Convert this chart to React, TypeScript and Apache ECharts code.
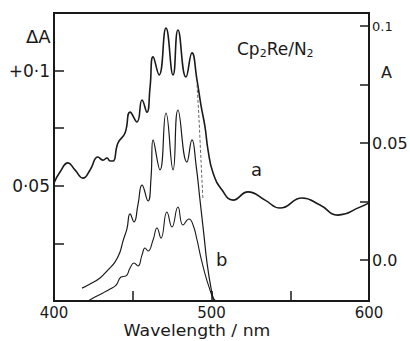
import React, { useEffect, useRef } from "react";
import * as echarts from "echarts";

// Curve a (absorbance, right axis A)
const wavelengthA = [400.0, 403.8, 408.9, 413.3, 418.4, 422.9, 427.9, 431.1, 433.7, 435.6, 437.5, 440.6, 445.1, 448.3, 452.7, 455.9, 459.0, 461.0, 462.9, 466.7, 471.1, 475.6, 478.7, 483.8, 487.6, 490.8, 493.3, 495.9, 497.8, 501.0, 506.7, 513.7, 523.2, 534.0, 543.5, 557.5, 568.9, 580.3, 594.3, 600.0];
const absorbanceA = [0.0329, 0.0376, 0.0415, 0.0385, 0.035, 0.0385, 0.044, 0.0427, 0.0436, 0.0423, 0.0423, 0.05, 0.0543, 0.0632, 0.059, 0.0684, 0.0632, 0.0739, 0.0868, 0.0791, 0.0991, 0.0791, 0.0983, 0.0782, 0.0885, 0.0769, 0.0662, 0.0568, 0.047, 0.0372, 0.0299, 0.0256, 0.0291, 0.0256, 0.0222, 0.0265, 0.0235, 0.0192, 0.0226, 0.0244];

// Curve b, upper trace (difference absorbance, left axis ΔA)
const wavelengthB1 = [417.8, 422.9, 429.2, 434.3, 438.7, 441.9, 443.8, 446.3, 448.3, 450.8, 453.3, 455.9, 459.7, 461.6, 462.9, 467.3, 471.1, 475.6, 478.7, 484.4, 487.6, 490.2, 492.7, 495.2, 497.1, 499.7, 501.6, 502.9];
const deltaB1 = [0.0056, 0.0074, 0.01, 0.0135, 0.0169, 0.0213, 0.026, 0.0313, 0.0378, 0.0343, 0.0417, 0.0503, 0.0434, 0.0534, 0.0699, 0.0569, 0.0816, 0.0569, 0.0829, 0.0603, 0.0699, 0.059, 0.0438, 0.0286, 0.0169, 0.0056, 0.0004, 0.0];

// Curve b, lower trace
const wavelengthB2 = [421.6, 426.0, 431.1, 435.6, 439.4, 442.5, 445.7, 448.3, 450.8, 453.3, 455.9, 457.8, 459.7, 462.9, 465.4, 467.9, 471.7, 474.9, 478.7, 481.9, 485.7, 488.3, 490.8, 493.3, 495.9, 498.4, 501.0, 502.9];
const deltaB2 = [0.0, 0.0017, 0.0035, 0.0052, 0.0069, 0.0104, 0.0109, 0.0143, 0.0165, 0.0152, 0.02, 0.023, 0.0217, 0.0265, 0.0317, 0.0273, 0.0386, 0.0321, 0.0408, 0.033, 0.0356, 0.033, 0.0265, 0.0187, 0.0117, 0.0061, 0.0013, 0.0];

// Dashed drop from curve a's last peak towards the baseline
const wavelengthDrop = [490.8, 492.1, 493.3, 494.6];
const deltaDrop = [0.0938, 0.0786, 0.0612, 0.0438];

const xLabelValues = [400, 500, 600];
const xTickValues = [450, 500, 550];
const leftTickValues = [0.025, 0.05, 0.075, 0.1];
const leftLabelValues = [0.05, 0.1];
const rightTickValues = [0, 0.025, 0.05, 0.075, 0.1];
const rightLabelValues = [0, 0.05, 0.1];
const xAxisTitle = "Wavelength / nm";

const zip = (xs: number[], ys: number[]) => xs.map((x, i) => [x, ys[i]]);

const FONT = "DejaVu Sans";
const INK = "#1a1a1a";

export default function App() {
  const ref = useRef<HTMLDivElement>(null);
  useEffect(() => {
    if (!ref.current) return;
    const chart = echarts.init(ref.current, undefined, { renderer: "svg" });
    chart.setOption({
      animation: false,
      backgroundColor: "#fff",
      grid: {
        left: 54,
        right: 41,
        top: 13,
        bottom: 40,
        show: true,
        borderColor: INK,
        borderWidth: 2,
        containLabel: false,
        outerBoundsMode: "none",
      },
      xAxis: {
        type: "value",
        min: 400,
        max: 600,
        interval: 50,
        axisLine: { lineStyle: { color: INK, width: 2 } },
        axisTick: { inside: true, length: 10, customValues: xTickValues, lineStyle: { color: INK, width: 1.5 } },
        axisLabel: {
          customValues: xLabelValues,
          margin: 4,
          fontFamily: FONT,
          fontSize: 15,
          color: INK,
          formatter: (v: number) => (v % 100 === 0 ? String(v) : ""),
        },
        splitLine: { show: false },
      },
      yAxis: [
        {
          type: "value",
          position: "left",
          min: 0,
          max: 0.125,
          interval: 0.025,
          axisLine: { show: true, lineStyle: { color: INK, width: 2 } },
          axisTick: { show: true, inside: true, length: 10, customValues: leftTickValues, lineStyle: { color: INK, width: 1.5 } },
          axisLabel: {
            customValues: leftLabelValues,
            margin: 4,
            fontFamily: FONT,
            fontSize: 17,
            color: INK,
            formatter: (v: number) =>
              Math.abs(v - 0.1) < 1e-6 ? "+0·1" : Math.abs(v - 0.05) < 1e-6 ? "0·05" : "",
          },
          splitLine: { show: false },
        },
        {
          type: "value",
          position: "right",
          min: -0.01752,
          max: 0.10556,
          axisLine: { show: true, lineStyle: { color: INK, width: 2 } },
          axisTick: { show: true, inside: true, length: 9, customValues: rightTickValues, lineStyle: { color: INK, width: 1.5 } },
          axisLabel: {
            customValues: rightLabelValues,
            margin: 3,
            fontFamily: FONT,
            fontSize: 16,
            color: INK,
            formatter: (v: number) =>
              Math.abs(v - 0.1) < 1e-6 ? "{s|0.1}" : Math.abs(v - 0.05) < 1e-6 ? "0.05" : Math.abs(v) < 1e-6 ? "0.0" : "",
            rich: { s: { fontFamily: FONT, fontSize: 13, color: INK } },
          },
          splitLine: { show: false },
        },
      ],
      series: [
        {
          name: "a",
          type: "line",
          yAxisIndex: 1,
          data: zip(wavelengthA, absorbanceA),
          showSymbol: false,
          smooth: 0.5,
          lineStyle: { color: INK, width: 1.6 },
        },
        {
          name: "b1",
          type: "line",
          yAxisIndex: 0,
          data: zip(wavelengthB1, deltaB1),
          showSymbol: false,
          smooth: 0.5,
          lineStyle: { color: INK, width: 1.2 },
        },
        {
          name: "b2",
          type: "line",
          yAxisIndex: 0,
          data: zip(wavelengthB2, deltaB2),
          showSymbol: false,
          smooth: 0.5,
          lineStyle: { color: INK, width: 1.1 },
        },
        {
          name: "drop",
          type: "line",
          yAxisIndex: 0,
          data: zip(wavelengthDrop, deltaDrop),
          showSymbol: false,
          smooth: 0.3,
          lineStyle: { color: "#555", width: 0.9, type: [3, 2] },
        },
      ],
      graphic: [
        {
          type: "text",
          x: 197,
          y: 323,
          scaleX: 1.15,
          style: { text: xAxisTitle, fontFamily: FONT, fontSize: 15, fill: INK, align: "center", verticalAlign: "top" },
        },
        { type: "text", left: 26, top: 27, style: { text: "ΔA", fontFamily: FONT, fontSize: 18, fill: INK } },
        { type: "text", left: 381, top: 64, style: { text: "A", fontFamily: FONT, fontSize: 16, fill: INK } },
        {
          type: "text",
          left: 237,
          top: 40,
          style: {
            text: "Cp{sub|2}Re/N{sub|2}",
            fontFamily: FONT,
            fontSize: 17,
            fill: INK,
            rich: { sub: { fontFamily: FONT, fontSize: 11, fill: INK, padding: [10, 0, 0, 0] } },
          },
        },
        { type: "text", left: 251, top: 160, style: { text: "a", fontFamily: FONT, fontSize: 18, fill: INK } },
        { type: "text", left: 216, top: 250, style: { text: "b", fontFamily: FONT, fontSize: 18, fill: INK } },
      ],
    });
    return () => chart.dispose();
  }, []);
  return (
    <div
      ref={ref}
      style={{ position: "fixed", left: 0, top: 0, width: 410, height: 341, background: "#fff" }}
    />
  );
}
